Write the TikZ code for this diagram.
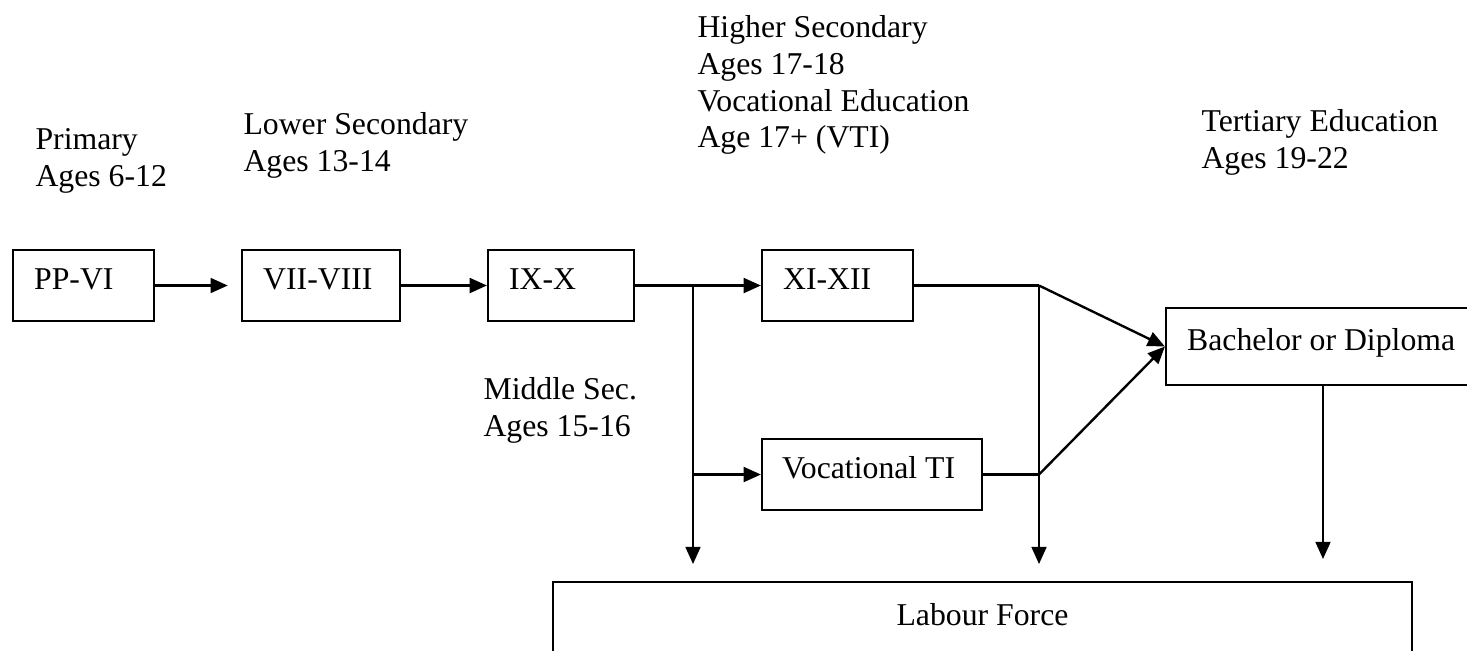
\documentclass[tikz,border=0pt]{standalone}
\usepackage{fontspec}
\setmainfont{Liberation Serif}
\usetikzlibrary{positioning, arrows.meta, calc}

\begin{document}
\begin{tikzpicture}[
  x=0.378pt, y=-0.378pt,
  level/.style={draw, line width=0.8pt, inner xsep=8pt, inner ysep=0pt,
                align=flush left, text height=8pt, text depth=5pt,
                minimum height=26.8pt,
                font=\fontsize{12}{13.9}\selectfont},
  ages/.style={anchor=north west, inner sep=0pt, align=left,
               font=\fontsize{12}{13.9}\selectfont},
  arrow/.style={-{Triangle[length=6.5pt, width=5.6pt]}, line width=0.9pt},
  link/.style={line width=0.9pt}
]
  \useasboundingbox (0,0) rectangle (1467,650);

  \node[ages] (primary)  at (35,128)   {Primary\\Ages 6-12};
  \node[ages] (lower)    at (243,112)  {Lower Secondary\\Ages 13-14};
  \node[ages] (higher)   at (697,15)   {Higher Secondary\\Ages 17-18\\Vocational Education\\Age 17+ (VTI)};
  \node[ages] (tertiary) at (1201,109) {Tertiary Education\\Ages 19-22};
  \node[ages] (middle)   at (483,377)  {Middle Sec.\\Ages 15-16};

  \node[level, text width=37.3pt] (ppvi)  at (83.5,285.5) {PP-VI};
  \node[level, text width=43.7pt] (vii)   at (321,285.5)  {VII-VIII};
  \node[level, text width=39.2pt] (ixx)   at (561,285.5)  {IX-X};
  \node[level, text width=41.1pt] (xixii) at (837.5,285.5) {XI-XII};
  \node[level, text width=68pt, inner xsep=7.6pt] (voc) at (872,474.5) {Vocational TI};
  \node[level, text width=106.5pt, minimum height=29.1pt] (bach) at (1328,346.5) {Bachelor or Diploma};
  \node[level, text width=308.7pt, align=flush center, minimum height=30.2pt] (labour) at (982.5,622) {Labour Force};

  \coordinate (j1) at (693,285.5);
  \coordinate (j2) at (1039,285.5);
  \coordinate (j3) at (j2 |- voc.east);

  \draw[arrow, shorten >=5pt] (ppvi) -- (vii);
  \draw[arrow] (vii) -- (ixx);
  \draw[arrow] (ixx) -- (xixii);
  \draw[arrow] (j1 |- voc.west) -- (voc.west);
  \draw[arrow, shorten >=6.4pt] (j1) -- (j1 |- labour.north);

  \draw[link] (xixii.east) -- (j2);
  \draw[link] (voc.east) -- (j3);
  \draw[arrow] (j2) -- (bach.west);
  \draw[arrow] (j3) -- (bach.west);
  \draw[arrow, shorten >=6.4pt] (j2) -- (j2 |- labour.north);

  \draw[arrow, shorten >=8.3pt] ([xshift=-1.9pt]bach.south) -- ([xshift=-1.9pt]bach.south |- labour.north);
\end{tikzpicture}
\end{document}
